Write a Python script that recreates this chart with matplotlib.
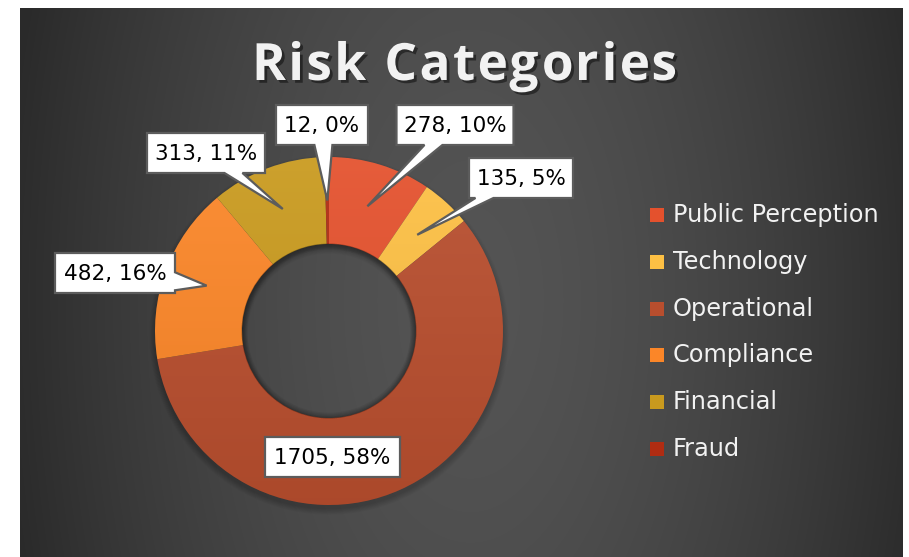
import numpy as np
import matplotlib
matplotlib.use("Agg")
from matplotlib import pyplot as plt
from matplotlib.patches import Polygon, Rectangle, Wedge
import matplotlib.patheffects as pe
#
categories = ["Public Perception", "Technology", "Operational", "Compliance", "Financial", "Fraud"]
values = [278, 135, 1705, 482, 313, 12]
colors = ["#e4512d", "#fdc044", "#b84e2e", "#fb8628", "#c99a1e", "#b02c12"]
title = "Risk Categories"
#
W, H = 909, 557
CX, CY, R, RW = 329, 331, 174, 87        # donut in pixel coords (y down)
# callout boxes: centre x, centre y, width (pixels, y down)
boxes = [(455, 125, 117), (521, 178, 104), (332, 457, 135),
         (115, 273, 120), (206, 153, 118), (322, 125, 92)]
BOX_H = 40
TITLE_W = 426
#
def P(x, y):
    return x, H - y
#
def callout(ax, text, cx, cy, w, tip=None):
    x0, x1 = cx - w / 2, cx + w / 2
    y0, y1 = cy - BOX_H / 2, cy + BOX_H / 2
    pts = [(x0, y0), (x1, y0), (x1, y1), (x0, y1)]
    if tip is not None:
        dx, dy = tip[0] - cx, tip[1] - cy
        tx = (w / 2) / abs(dx) if dx else 1e9
        ty = (BOX_H / 2) / abs(dy) if dy else 1e9
        hw = 9
        if ty < tx:
            bx = min(max(cx + dx * ty, x0 + hw + 3), x1 - hw - 3)
            if dy > 0:   # bottom
                pts = [(x0, y0), (x1, y0), (x1, y1), (bx + hw, y1), tip, (bx - hw, y1), (x0, y1)]
            else:        # top
                pts = [(x0, y0), (bx - hw, y0), tip, (bx + hw, y0), (x1, y0), (x1, y1), (x0, y1)]
        else:
            by = min(max(cy + dy * tx, y0 + hw + 2), y1 - hw - 2)
            if dx > 0:   # right
                pts = [(x0, y0), (x1, y0), (x1, by - hw), tip, (x1, by + hw), (x1, y1), (x0, y1)]
            else:        # left
                pts = [(x0, y0), (x1, y0), (x1, y1), (x0, y1), (x0, by + hw), tip, (x0, by - hw)]
    ax.add_patch(Polygon([P(*p) for p in pts], closed=True, fc="white", ec="#5c5c5c",
                         lw=1.6, zorder=6, joinstyle="miter"))
    ax.text(*P(cx, cy + 1), text, ha="center", va="center", fontsize=15.5,
            family="DejaVu Sans", color="black", zorder=7)
#
fig = plt.figure(figsize=(W / 100, H / 100), dpi=100)
fig.patch.set_facecolor("white")
ax = fig.add_axes([0, 0, 1, 1])
ax.set_xlim(0, W)
ax.set_ylim(0, H)
#
# background: soft radial gradient
gx0, gx1, gy0, gy1 = 20, 903, 8, H
xx, yy = np.meshgrid(np.arange(gx0, gx1), np.arange(gy0, gy1))
d = np.sqrt(((xx - 470) / 470.0) ** 2 + ((yy - 300) / 900.0) ** 2)
d = np.clip(d, 0, 1)
v = 0.33 - 0.165 * d ** 1.6
bg = np.dstack([v, v, v])
ax.imshow(bg, extent=(gx0, gx1, H - gy1, H - gy0), origin="upper", zorder=0, interpolation="bilinear")
#
# faint shadow below the donut
for k in range(8):
    ax.add_patch(Wedge(P(CX, CY + 4), R + k * 0.8, 0, 360, width=RW + 2 * k * 0.8,
                       fc="black", ec="none", alpha=0.025, zorder=1))
#
wedges, _ = ax.pie(values, colors=colors, startangle=90, counterclock=False, radius=R,
                   center=P(CX, CY), wedgeprops=dict(width=RW, edgecolor="none"))
for w in wedges:
    w.set_zorder(2)
# slight top-light / bottom-dark shading over the ring
shade = np.linspace(1, 0, 100)[:, None]
ov = np.zeros((100, 2, 4))
ov[..., :3] = shade[..., None] * np.ones(3)
ov[..., 3] = 0.07
ring = Wedge(P(CX, CY), R, 0, 360, width=RW, transform=ax.transData)
im = ax.imshow(ov, extent=(CX - R, CX + R, H - CY - R, H - CY + R), origin="upper", zorder=3)
im.set_clip_path(ring)
# inner rim shadow of the hole
for k in range(5):
    ax.add_patch(Wedge(P(CX, CY), R - RW + 0.5, 0, 360, width=1 + k * 1.2,
                       fc="black", ec="none", alpha=0.06, zorder=3))
#
total = sum(values)
cum = np.cumsum([0] + values[:-1])
for i, val in enumerate(values):
    label = "%d, %d%%" % (val, round(100.0 * val / total))
    bx, by, bw = boxes[i]
    tip = None
    if categories[i] != "Operational":
        a = 2 * np.pi * (cum[i] + val / 2.0) / total
        rm = R - RW / 2.0
        tip = (CX + rm * np.sin(a), CY - rm * np.cos(a))
    callout(ax, label, bx, by, bw, tip)
#
# legend
for i, cat in enumerate(categories):
    ly = 215 + i * 46.8
    ax.add_patch(Rectangle(P(650, ly + 7), 14, 14, fc=colors[i], ec="none", zorder=4))
    ax.text(*P(673, ly), cat, ha="left", va="center", fontsize=17.3, family="DejaVu Sans",
            color="#f2f2f2", zorder=4)
#
# title, letter-spaced
tprops = dict(fontsize=37, fontweight="bold", family=["Open Sans", "DejaVu Sans"])
renderer = fig.canvas.get_renderer()
def text_w(s):
    t = ax.text(0, 0, s, **tprops)
    w = t.get_window_extent(renderer).width
    t.remove()
    return w
wx = text_w("x")
adv = [text_w(title[:i] + "x") - wx if i else 0.0 for i in range(len(title))]
sp = (TITLE_W - text_w(title)) / (len(title) - 1)
tx0 = 465 - TITLE_W / 2.0
for i, ch in enumerate(title):
    if ch == " ":
        continue
    ax.text(*P(tx0 + adv[i] + i * sp, 80), ch, ha="left", va="baseline", color="#f2f2f2",
            zorder=5, path_effects=[pe.SimplePatchShadow(offset=(2, -2), shadow_rgbFace="black",
                                                         alpha=0.45), pe.Normal()], **tprops)
#
ax.set_xlim(0, W)
ax.set_ylim(0, H)
ax.set_aspect("auto")
ax.axis("off")
fig.savefig("out.png", dpi=100, facecolor="white")
